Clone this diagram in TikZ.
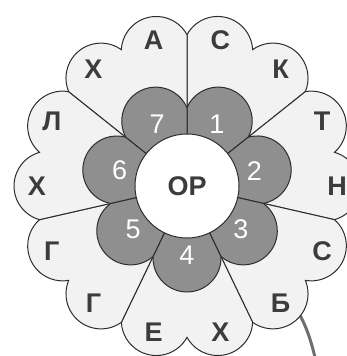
\documentclass[tikz,border=0pt]{standalone}
\usepackage{fontspec}
\setmainfont{Liberation Sans}
\usetikzlibrary{calc}
\definecolor{petallight}{RGB}{242,242,242}
\definecolor{petaldark}{RGB}{143,143,143}
\definecolor{edgedark}{RGB}{45,45,45}
\definecolor{letterdark}{RGB}{60,60,60}
\definecolor{stemgray}{RGB}{110,110,110}
\begin{document}
\begin{tikzpicture}[x=0.5pt,y=0.5pt,
  outerpetal/.style={draw=edgedark,line width=0.5pt,fill=petallight},
  innerpetal/.style={draw=edgedark,line width=0.5pt,fill=petaldark},
  core/.style={circle,draw=edgedark,line width=0.5pt,fill=white,minimum size=52pt,inner sep=0pt,
    font=\fontsize{13.5}{15}\selectfont\bfseries,text=letterdark},
  letter/.style={font=\fontsize{13.5}{15}\selectfont\bfseries,text=letterdark},
  digit/.style={font=\fontsize{13.5}{15}\selectfont,text=white},
]
  \useasboundingbox (-187,-170) rectangle (159,186);
  \coordinate (stemtop) at (100,-112);
  \coordinate (stembot) at (133,-195);
  \draw[stemgray,line width=1.5pt] (stemtop) .. controls (116,-128) and (125,-152) .. (stembot);
  \foreach \k in {1,...,7} {
    \pgfmathsetmacro\a{90-(\k-0.5)*360/7}
    \draw[outerpetal] (0,0) -- (\a+25.714:151.33)
      arc[start angle=\a+12.857+74.18, end angle=\a+12.857-74.18, radius=35]
      arc[start angle=\a-12.857+74.18, end angle=\a-12.857-74.18, radius=35] -- cycle;
  }
  \foreach \k in {1,...,7} {
    \pgfmathsetmacro\a{90-(\k-0.5)*360/7}
    \draw[innerpetal] (0,0) -- (\a+25.714:78.29)
      arc[start angle=\a+92.46, end angle=\a-92.46, radius=34] -- cycle;
    \node[digit] (d\k) at (\a:69) {\k};
  }
  \node[core] (core) at (0,0) {ОР};
  \foreach \j/\c in {0/С,1/К,2/Т,3/Н,4/С,5/Б,6/Х,7/Е,8/Г,9/Г,10/Х,11/Л,12/Х,13/А} {
    \node[letter] (l\j) at ({90-12.857-25.714*\j}:150) {\c};
  }
\end{tikzpicture}
\end{document}
